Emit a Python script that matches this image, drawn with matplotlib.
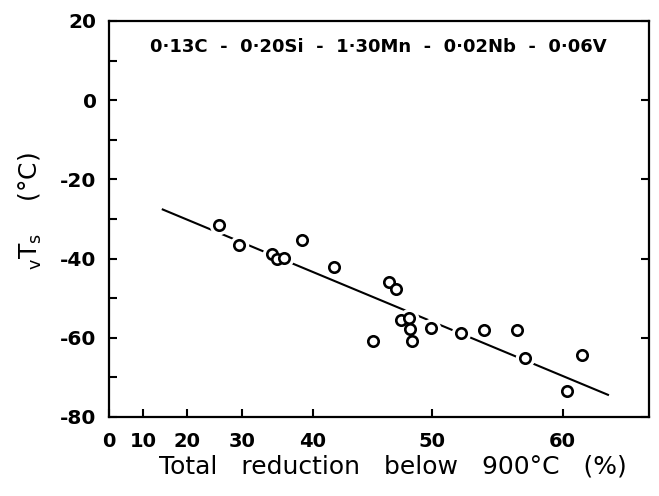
import numpy as np
import matplotlib
matplotlib.use("Agg")
from matplotlib import pyplot as plt
from matplotlib.ticker import MultipleLocator, FixedLocator, FixedFormatter

# measured points: total reduction below 900C (%) vs vTs (C)
reduction = [25.9, 29.5, 34.3, 34.9, 35.9, 38.5, 41.8, 45.1, 46.4, 47.0, 47.4,
             48.1, 48.2, 48.3, 49.9, 52.2, 54.0, 56.5, 57.1, 60.2, 60.9]
vts = [-31.6, -36.6, -38.9, -40.2, -39.8, -35.4, -42.0, -60.7, -45.8, -47.7, -55.5,
       -55.1, -57.8, -60.7, -57.6, -58.9, -58.0, -58.0, -65.1, -73.5, -64.4]

# regression line end points
fit_x = [14.5, 62.1]
fit_y = [-27.6, -74.4]

xticks = [0, 10, 20, 30, 40, 50, 60]
yticks = [20, 0, -20, -40, -60, -80]
ytick_labels = ['20', '0', '-20', '-40', '-60', '-80']
composition = "0·13C  -  0·20Si  -  1·30Mn  -  0·02Nb  -  0·06V"

# the original x axis is not linear (stretched towards high reductions)
R_KNOTS = [0, 10, 20, 30, 40, 50, 60, 65]
U_KNOTS = [0, 34, 78, 133, 204, 323, 454, 562]


def fwd(r):
    return np.interp(r, R_KNOTS, U_KNOTS)


def inv(u):
    return np.interp(u, U_KNOTS, R_KNOTS)


plt.rcParams['font.family'] = 'DejaVu Sans'
plt.rcParams['mathtext.fontset'] = 'dejavusans'

fig = plt.figure(figsize=(6.59, 4.96), dpi=100)
ax = fig.add_axes([109 / 659, 1 - 417 / 496, 540 / 659, 396 / 496])

ax.set_xscale('function', functions=(fwd, inv))
ax.set_xlim(0, 64)
ax.set_ylim(-80, 20)

ax.plot(fit_x, fit_y, color='black', lw=1.5, zorder=2)
# white halo so the line breaks near the circles like in the print
ax.plot(reduction, vts, 'o', ms=13, color='white', mec='white', zorder=3)
ax.plot(reduction, vts, 'o', ms=7.5, mfc='white', mec='black', mew=1.9, zorder=4)

for s in ax.spines.values():
    s.set_linewidth(1.6)

ax.xaxis.set_major_locator(FixedLocator(xticks))
ax.xaxis.set_major_formatter(FixedFormatter([str(t) for t in xticks]))
ax.yaxis.set_major_locator(FixedLocator(yticks))
ax.yaxis.set_major_formatter(FixedFormatter(ytick_labels))
ax.yaxis.set_minor_locator(MultipleLocator(10))

ax.tick_params(axis='both', which='major', direction='in', length=6, width=1.5,
               top=False, right=True)
ax.tick_params(axis='y', which='minor', direction='in', length=6, width=1.5,
               right=False)
ax.tick_params(axis='x', pad=11, labelsize=14)
ax.tick_params(axis='y', pad=9, labelsize=14.5)
for lab in ax.get_xticklabels() + ax.get_yticklabels():
    lab.set_fontweight('bold')

ax.text(0.076, 0.934, composition, transform=ax.transAxes, fontsize=13,
        fontweight='bold', va='center', ha='left')

ax.set_xlabel("Total   reduction   below   900°C   (%)", fontsize=18)
ax.xaxis.set_label_coords(0.526, -0.095)
ax.set_ylabel(r"${}_{\mathrm{v}}\mathrm{T}_{\mathrm{s}}$    (°C)", fontsize=18,
              va='center')
ax.yaxis.set_label_coords(-0.145, 0.52)

plt.savefig("out.png", dpi=100)
